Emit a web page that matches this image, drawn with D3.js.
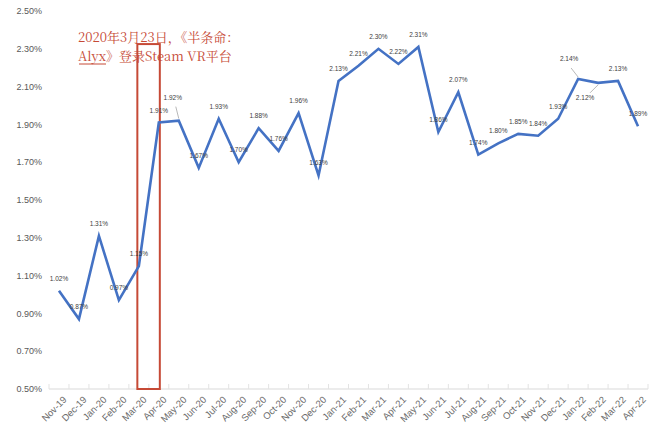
<!DOCTYPE html>
<html>
<head>
<meta charset="utf-8">
<script src="https://cdn.jsdelivr.net/npm/d3@7"></script>
<style>
  body { margin: 0; background: #fff; }
  svg { display: block; }
</style>
</head>
<body>
<div id="chart"></div>
<script>
const months = ["Nov-19","Dec-19","Jan-20","Feb-20","Mar-20","Apr-20","May-20","Jun-20","Jul-20","Aug-20",
  "Sep-20","Oct-20","Nov-20","Dec-20","Jan-21","Feb-21","Mar-21","Apr-21","May-21","Jun-21",
  "Jul-21","Aug-21","Sep-21","Oct-21","Nov-21","Dec-21","Jan-22","Feb-22","Mar-22","Apr-22"];
const share = [1.02, 0.87, 1.31, 0.97, 1.15, 1.91, 1.92, 1.67, 1.93, 1.70,
  1.88, 1.76, 1.96, 1.63, 2.13, 2.21, 2.30, 2.22, 2.31, 1.86,
  2.07, 1.74, 1.80, 1.85, 1.84, 1.93, 2.14, 2.12, 2.13, 1.89];
const yTicks = [0.5, 0.7, 0.9, 1.1, 1.3, 1.5, 1.7, 1.9, 2.1, 2.3, 2.5];
const noteLines = ["2020年3月23日，《半条命：", "Alyx》登录Steam VR平台"];
const boxFrom = "Mar-20", boxTo = "Apr-20";

const width = 662, height = 437;
const margin = {top: 11, right: 14, bottom: 48, left: 49};

const svg = d3.select("#chart").append("svg")
    .attr("width", width)
    .attr("height", height);

const x = d3.scaleBand()
    .domain(months)
    .range([margin.left, width - margin.right]);

const y = d3.scaleLinear()
    .domain([0.5, 2.5])
    .range([height - margin.bottom, margin.top]);

const cx = d => x(d) + x.bandwidth() / 2;

// y labels (no gridlines in the original)
svg.append("g")
    .selectAll("text")
    .data(yTicks)
    .join("text")
      .attr("x", 42)
      .attr("y", d => y(d))
      .attr("dy", "0.35em")
      .attr("text-anchor", "end")
      .attr("font-family", "Liberation Sans, Arial, sans-serif")
      .attr("font-size", 9)
      .attr("fill", "#595959")
      .text(d => d.toFixed(2) + "%");

// x axis
const xAxis = svg.append("g")
    .attr("transform", `translate(0,${y(0.5)})`);

xAxis.append("line")
    .attr("x1", margin.left)
    .attr("x2", width - margin.right)
    .attr("stroke", "#d9d9d9");

xAxis.selectAll(".tick")
    .data(months.concat(["_end"]))
    .join("line")
      .attr("x1", (d, i) => margin.left + i * x.step())
      .attr("x2", (d, i) => margin.left + i * x.step())
      .attr("y1", 0)
      .attr("y2", -5)
      .attr("stroke", "#e3e3e3");

xAxis.selectAll("text")
    .data(months)
    .join("text")
      .attr("transform", d => `translate(${cx(d) + 6},9) rotate(-45)`)
      .attr("text-anchor", "end")
      .attr("dy", "0.35em")
      .attr("font-family", "Liberation Sans, Arial, sans-serif")
      .attr("font-size", 9.5)
      .attr("fill", "#6b6b6b")
      .text(d => d);

// highlight box
svg.append("rect")
    .attr("x", cx(boxFrom) - 1.5)
    .attr("y", y(2.325))
    .attr("width", cx(boxTo) - cx(boxFrom) + 2.5)
    .attr("height", y(0.5) - y(2.325))
    .attr("fill", "none")
    .attr("stroke", "#c64a36")
    .attr("stroke-width", 2);

// annotation
const note = svg.append("g")
    .attr("font-family", "Noto Serif CJK SC, Noto Sans CJK SC, serif")
    .attr("font-size", 13)
    .attr("fill", "#c64a36");

note.selectAll("text")
    .data(noteLines)
    .join("text")
      .attr("x", 78)
      .attr("y", (d, i) => 42 + i * 19)
      .text(d => d);

note.append("line")
    .attr("x1", 79).attr("x2", 106)
    .attr("y1", 64).attr("y2", 64)
    .attr("stroke", "#c64a36")
    .attr("stroke-width", 1);

// line
const line = d3.line()
    .x((d, i) => cx(months[i]))
    .y(d => y(d));

svg.append("path")
    .datum(share)
    .attr("fill", "none")
    .attr("stroke", "#4472c4")
    .attr("stroke-width", 2.6)
    .attr("stroke-linejoin", "miter")
    .attr("d", line);

// data labels
const labelOffset = {
  "May-20": [-6, -21], "Jan-22": [-9, -18], "Feb-22": [-13, 17]
};

const leaders = [["May-20", -3, -14], ["Jan-22", -7, -11], ["Feb-22", -8, 10]];

svg.append("g")
    .selectAll("line")
    .data(leaders)
    .join("line")
      .attr("x1", d => cx(d[0]))
      .attr("y1", d => y(share[months.indexOf(d[0])]) - (d[2] < 0 ? 2 : -2))
      .attr("x2", d => cx(d[0]) + d[1])
      .attr("y2", d => y(share[months.indexOf(d[0])]) + d[2])
      .attr("stroke", "#a6a6a6")
      .attr("stroke-width", 0.8);

svg.append("g")
    .selectAll("text")
    .data(share)
    .join("text")
      .attr("x", (d, i) => cx(months[i]) + (labelOffset[months[i]] ? labelOffset[months[i]][0] : 0))
      .attr("y", (d, i) => y(d) + (labelOffset[months[i]] ? labelOffset[months[i]][1] : -10))
      .attr("text-anchor", "middle")
      .attr("font-family", "Liberation Sans Narrow, Liberation Sans, Arial, sans-serif")
      .attr("font-size", 6.5)
      .attr("fill", "#404040")
      .text(d => d.toFixed(2) + "%");
</script>
</body>
</html>
